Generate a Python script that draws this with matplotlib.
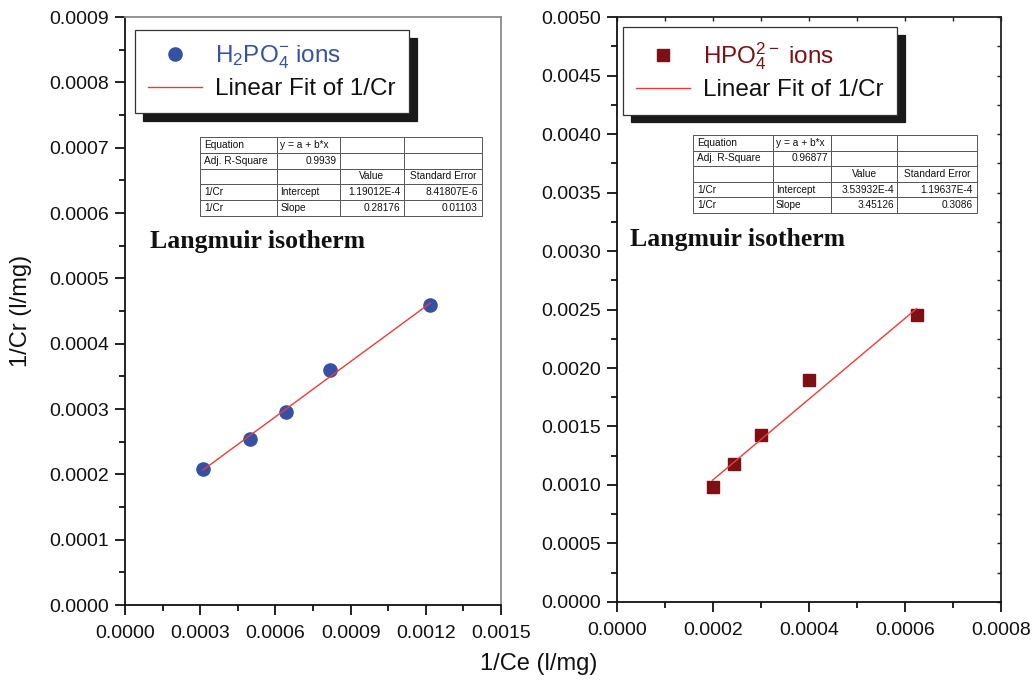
import matplotlib
matplotlib.use("Agg")
import matplotlib.pyplot as plt
from matplotlib.table import Table
from matplotlib.lines import Line2D
from matplotlib.ticker import MultipleLocator, FormatStrFormatter

plt.rcParams['font.family'] = ['Liberation Sans', 'DejaVu Sans']
plt.rcParams['mathtext.fontset'] = 'custom'
plt.rcParams['mathtext.rm'] = 'Liberation Sans'
plt.rcParams['mathtext.it'] = 'Liberation Sans:italic'

# H2PO4- adsorption data (Langmuir linear form)
h2_x = [0.000311, 0.000499, 0.000643, 0.000818, 0.001217]
h2_y = [0.000208, 0.000254, 0.000295, 0.000360, 0.000459]
h2_intercept = 1.19012e-4
h2_slope = 0.28176

# HPO4 2- adsorption data
hp_x = [0.000199, 0.000243, 0.000301, 0.000400, 0.000624]
hp_y = [0.000983, 0.001180, 0.001430, 0.001900, 0.002450]
hp_intercept = 3.53932e-4
hp_slope = 3.45126

h2_table = [["Equation", "y = a + b*x", "", ""],
            ["Adj. R-Square", "0.9939", "", ""],
            ["", "", "Value", "Standard Error"],
            ["1/Cr", "Intercept", "1.19012E-4", "8.41807E-6"],
            ["1/Cr", "Slope", "0.28176", "0.01103"]]
hp_table = [["Equation", "y = a + b*x", "", ""],
            ["Adj. R-Square", "0.96877", "", ""],
            ["", "", "Value", "Standard Error"],
            ["1/Cr", "Intercept", "3.53932E-4", "1.19637E-4"],
            ["1/Cr", "Slope", "3.45126", "0.3086"]]

table_align = [["left", "left", "left", "left"],
               ["left", "right", "left", "left"],
               ["left", "left", "center", "center"],
               ["left", "left", "right", "right"],
               ["left", "left", "right", "right"]]

BLUE = "#3451a3"
DARKRED = "#7d1015"
FITRED = "#f03a3a"
INK = "#111111"

fig = plt.figure(figsize=(10.34, 6.83), dpi=100)
ax1 = fig.add_axes([0.1209, 0.1142, 0.3636, 0.8609])
ax2 = fig.add_axes([0.5967, 0.1186, 0.3714, 0.8565])


def style_axes(ax, xmax, xstep, ymax, ystep, frame_col):
    ax.set_xlim(0, xmax)
    ax.set_ylim(0, ymax)
    ax.xaxis.set_major_locator(MultipleLocator(xstep))
    ax.xaxis.set_minor_locator(MultipleLocator(xstep / 2))
    ax.yaxis.set_major_locator(MultipleLocator(ystep))
    ax.yaxis.set_minor_locator(MultipleLocator(ystep / 2))
    ax.xaxis.set_major_formatter(FormatStrFormatter('%.4f'))
    ax.yaxis.set_major_formatter(FormatStrFormatter('%.4f'))
    ax.tick_params(which='major', direction='out', length=7.5, width=1.3,
                   labelsize=14, colors=INK, pad=4)
    ax.tick_params(axis='x', which='major', pad=7)
    ax.tick_params(which='minor', direction='out', length=4.5, width=1.3,
                   colors=INK)
    for s in ('left', 'bottom'):
        ax.spines[s].set_linewidth(1.3)
        ax.spines[s].set_color(INK)
    for s in ('top', 'right'):
        ax.spines[s].set_linewidth(1.3)
        ax.spines[s].set_color(frame_col)


style_axes(ax1, 0.0015, 0.0003, 0.0009, 0.0001, '#8a8a8a')
style_axes(ax2, 0.0008, 0.0002, 0.0050, 0.0005, '#222222')

# small inward ticks on the top and right edges of the second panel
sec_x = ax2.secondary_xaxis('top')
sec_x.xaxis.set_major_locator(MultipleLocator(0.0002))
sec_x.xaxis.set_minor_locator(MultipleLocator(0.0001))
sec_x.tick_params(which='both', direction='in', length=3, width=1.0,
                  labeltop=False, colors='#222222')
sec_x.spines['top'].set_visible(False)
sec_y = ax2.secondary_yaxis('right')
sec_y.yaxis.set_major_locator(MultipleLocator(0.0005))
sec_y.yaxis.set_minor_locator(MultipleLocator(0.00025))
sec_y.tick_params(which='both', direction='in', length=3, width=1.0,
                  labelright=False, colors='#222222')
sec_y.spines['right'].set_visible(False)

# data and linear fits
ax1.plot(h2_x, h2_y, 'o', color=BLUE, markersize=9.5, zorder=3)
fx = [min(h2_x), max(h2_x)]
ax1.plot(fx, [h2_intercept + h2_slope * v for v in fx], '-', color=FITRED,
         lw=1.0, zorder=4)

ax2.plot(hp_x, hp_y, 's', color=DARKRED, markersize=8, zorder=3)
fx2 = [min(hp_x), max(hp_x)]
ax2.plot(fx2, [hp_intercept + hp_slope * v for v in fx2], '-', color=FITRED,
         lw=1.0, zorder=4)


def add_legend(ax, marker, mcolor, msize, label, anchor):
    handles = [Line2D([], [], ls='none', marker=marker, color=mcolor,
                      markersize=msize),
               Line2D([], [], color=FITRED, lw=1.0)]
    labels = [label, "Linear Fit of 1/Cr"]
    leg = ax.legend(handles, labels, loc='upper left', bbox_to_anchor=anchor,
                    borderaxespad=0, fontsize=17.5, frameon=True, fancybox=False,
                    edgecolor='#333333', framealpha=1, handlelength=2.2,
                    handletextpad=0.55, labelspacing=0.3, borderpad=0.55,
                    shadow={'ox': 5.5, 'oy': -5.5, 'color': '#1a1a1a', 'alpha': 1})
    leg.get_frame().set_linewidth(0.9)
    leg.get_texts()[0].set_color(mcolor)
    leg.get_texts()[1].set_color(INK)
    leg.set_zorder(6)
    return leg


add_legend(ax1, 'o', BLUE, 9.5, r"H$_2$PO$_4^{-}$ ions", (0.0266, 0.978))
add_legend(ax2, 's', DARKRED, 8, r"HPO$_4^{2-}$ ions", (0.0156, 0.983))


def add_fit_table(ax, rows, bbox, colw):
    tbl = Table(ax, bbox=bbox)
    nrows = len(rows)
    total = sum(colw)
    for r, row in enumerate(rows):
        for c, txt in enumerate(row):
            cell = tbl.add_cell(r, c, width=colw[c] / total, height=1.0 / nrows,
                                text=txt, loc=table_align[r][c],
                                facecolor='white', edgecolor='#555555')
            cell.PAD = 0.05
            cell.set_linewidth(0.7)
            cell.get_text().set_fontsize(7.3)
            cell.get_text().set_color(INK)
    tbl.auto_set_font_size(False)
    tbl.set_zorder(5)
    ax.add_table(tbl)


add_fit_table(ax1, h2_table, [0.1995, 0.6616, 0.7495, 0.1344], [77, 63, 64, 78])
add_fit_table(ax2, hp_table, [0.198, 0.665, 0.7395, 0.1333], [80, 58, 66, 80])

for ax, pos in ((ax1, (0.066, 0.619)), (ax2, (0.034, 0.6205))):
    ax.text(pos[0], pos[1], "Langmuir isotherm", transform=ax.transAxes,
            family='Liberation Serif', fontweight='bold', fontsize=18.5,
            ha='left', va='center', color=INK)

ax1.set_ylabel("1/Cr (l/mg)", fontsize=17, color=INK, labelpad=12)
fig.text(0.521, 0.028, "1/Ce (l/mg)", fontsize=17, ha='center', va='center',
         color=INK)

fig.savefig("out.png", dpi=100)
